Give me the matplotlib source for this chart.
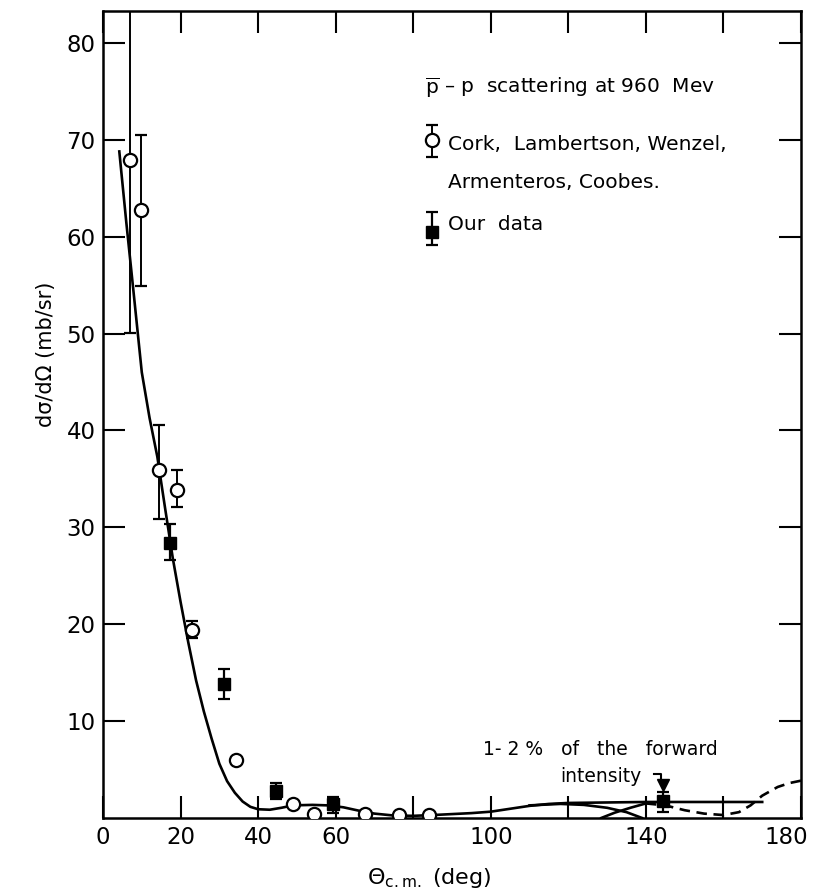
import matplotlib
matplotlib.use("Agg")
import matplotlib.pyplot as plt
from matplotlib.transforms import ScaledTranslation

plt.rcParams["font.family"] = ["DejaVu Sans"]
plt.rcParams["mathtext.fontset"] = "dejavusans"

# Cork, Lambertson, Wenzel, Armenteros, Coobes (open circles)
cork_theta = [6.9, 9.7, 14.4, 19.2, 23.0, 34.2, 48.9, 54.4, 67.5, 76.4, 84.0]
cork_sigma = [67.9, 62.8, 35.9, 33.9, 19.4, 6.0, 1.45, 0.45, 0.45, 0.27, 0.35]
cork_low = [50.1, 54.9, 30.9, 32.1, 18.6, 6.0, 1.45, 0.45, 0.45, 0.27, 0.35]
cork_high = [95.0, 70.5, 40.6, 35.9, 20.3, 6.0, 1.45, 0.45, 0.45, 0.27, 0.35]

# our data (filled squares)
our_theta = [17.3, 31.2, 44.7, 59.4, 144.4]
our_sigma = [28.4, 13.8, 2.8, 1.4, 1.7]
our_low = [26.6, 12.3, 2.0, 0.55, 0.65]
our_high = [30.3, 15.4, 3.6, 2.15, 2.7]

# fitted curve
fit_theta = [4.2, 6, 8, 10, 12, 14, 16, 18, 20, 22, 24, 26, 28, 30, 32, 34, 36,
             38, 40, 43, 46, 49, 54, 58, 62, 66, 70, 75, 80, 85, 90, 95, 100,
             105, 110, 115, 120, 130, 140, 150, 160, 170]
fit_sigma = [68.8, 61.5, 53.8, 46.0, 41.3, 37.3, 32.0, 26.8, 22.3, 18.1, 14.2,
             11.0, 8.2, 5.6, 3.8, 2.6, 1.7, 1.15, 0.9, 0.85, 1.05, 1.3, 1.35,
             1.3, 1.1, 0.75, 0.45, 0.25, 0.22, 0.3, 0.4, 0.5, 0.65, 0.95, 1.25,
             1.45, 1.55, 1.6, 1.65, 1.65, 1.65, 1.65]

# alternative branches at backward angles
branch_theta = [110, 118, 124, 130, 135, 139]
branch_sigma = [1.3, 1.45, 1.35, 1.05, 0.6, 0.0]
rise_theta = [128.5, 132, 136, 140]
rise_sigma = [0.0, 0.55, 1.05, 1.5]
dash_theta = [140, 145, 150, 155, 160, 164, 167, 170, 174, 177, 180]
dash_sigma = [1.5, 1.3, 0.8, 0.45, 0.3, 0.6, 1.3, 2.3, 3.2, 3.6, 3.85]

xticks = [0, 20, 40, 60, 80, 100, 120, 140, 160, 180]
xtick_labels = ["0", "20", "40", "60", "", "100", "", "140", "", "180"]
yticks = [10, 20, 30, 40, 50, 60, 70, 80]

fig = plt.figure(figsize=(8.15, 8.92), dpi=100)
ax = fig.add_axes([0.1264, 0.0830, 0.8564, 0.9047])

lw = 1.9
ax.plot(fit_theta, fit_sigma, color="black", lw=lw, zorder=2)
ax.plot(branch_theta, branch_sigma, color="black", lw=lw, zorder=2)
ax.plot(rise_theta, rise_sigma, color="black", lw=lw, zorder=2)
ax.plot(dash_theta, dash_sigma, color="black", lw=lw, ls=(0, (4, 2.5)), zorder=2)

cork_err = [[s - lo for s, lo in zip(cork_sigma, cork_low)],
            [hi - s for s, hi in zip(cork_sigma, cork_high)]]
ax.errorbar(cork_theta, cork_sigma, yerr=cork_err, fmt="o", ms=9.5,
            mfc="white", mec="black", mew=1.6, ecolor="black", elinewidth=1.4,
            capsize=4.3, capthick=1.4, zorder=4)

our_err = [[s - lo for s, lo in zip(our_sigma, our_low)],
           [hi - s for s, hi in zip(our_sigma, our_high)]]
ax.errorbar(our_theta, our_sigma, yerr=our_err, fmt="s", ms=8.5,
            mfc="black", mec="black", ecolor="black", elinewidth=1.6,
            capsize=4.3, capthick=1.6, zorder=4)

ax.set_xlim(0, 180)
ax.set_ylim(0, 83.3)
ax.set_xticks(xticks)
ax.set_xticklabels(xtick_labels)
ax.set_yticks(yticks)
ax.tick_params(direction="in", length=16, width=1.5, labelsize=16.5,
               top=True, right=True)
ax.tick_params(axis="x", pad=6)
ax.tick_params(axis="y", pad=5.5)
for sp in ax.spines.values():
    sp.set_linewidth(1.8)

# last x label sits just inside the figure edge
last = ax.get_xticklabels()[-1]
last.set_horizontalalignment("right")
last.set_transform(last.get_transform() + ScaledTranslation(0.07, 0, fig.dpi_scale_trans))

ax.text(-0.082, 0.574, "dσ/dΩ (mb/sr)", transform=ax.transAxes, rotation=90,
        ha="center", va="center", fontsize=15)
ax.text(0.468, -0.074, r"$\Theta_{\rm c.m.}$ (deg)", transform=ax.transAxes,
        ha="center", va="center", fontsize=16)

# key in the upper right
leg_fs = 14.5
ax.text(0.461, 0.905, r"$\overline{\rm p}$ – p  scattering at 960  Mev",
        transform=ax.transAxes, ha="left", va="center", fontsize=leg_fs)
ax.errorbar([0.4713], [0.840], yerr=[[0.021], [0.019]], fmt="o", ms=9.5,
            mfc="white", mec="black", mew=1.6, ecolor="black", elinewidth=1.4,
            capsize=4.3, capthick=1.4, transform=ax.transAxes, clip_on=False)
ax.text(0.494, 0.834, "Cork,  Lambertson, Wenzel,", transform=ax.transAxes,
        ha="left", va="center", fontsize=leg_fs)
ax.text(0.494, 0.788, "Armenteros, Coobes.", transform=ax.transAxes,
        ha="left", va="center", fontsize=leg_fs)
ax.errorbar([0.4713], [0.726], yerr=[[0.016], [0.025]], fmt="s", ms=8.5,
            mfc="black", mec="black", ecolor="black", elinewidth=1.6,
            capsize=4.3, capthick=1.6, transform=ax.transAxes, clip_on=False)
ax.text(0.494, 0.735, "Our  data", transform=ax.transAxes,
        ha="left", va="center", fontsize=leg_fs)

# note on the backward point
ax.text(0.5444, 0.0843, "1- 2 %   of   the   forward", transform=ax.transAxes,
        ha="left", va="center", fontsize=13.5)
ax.text(0.6547, 0.0508, "intensity", transform=ax.transAxes,
        ha="left", va="center", fontsize=13.5)
tx, top = our_theta[-1], our_high[-1]
ax.plot([tx - 2.2, tx - 0.4, tx - 0.4], [top + 1.8, top + 1.8, top + 1.2],
        color="black", lw=1.5, zorder=5)
ax.plot([tx], [top + 0.75], marker="v", ms=8, color="black", zorder=5)

fig.savefig("out.png", dpi=100, facecolor="white")
